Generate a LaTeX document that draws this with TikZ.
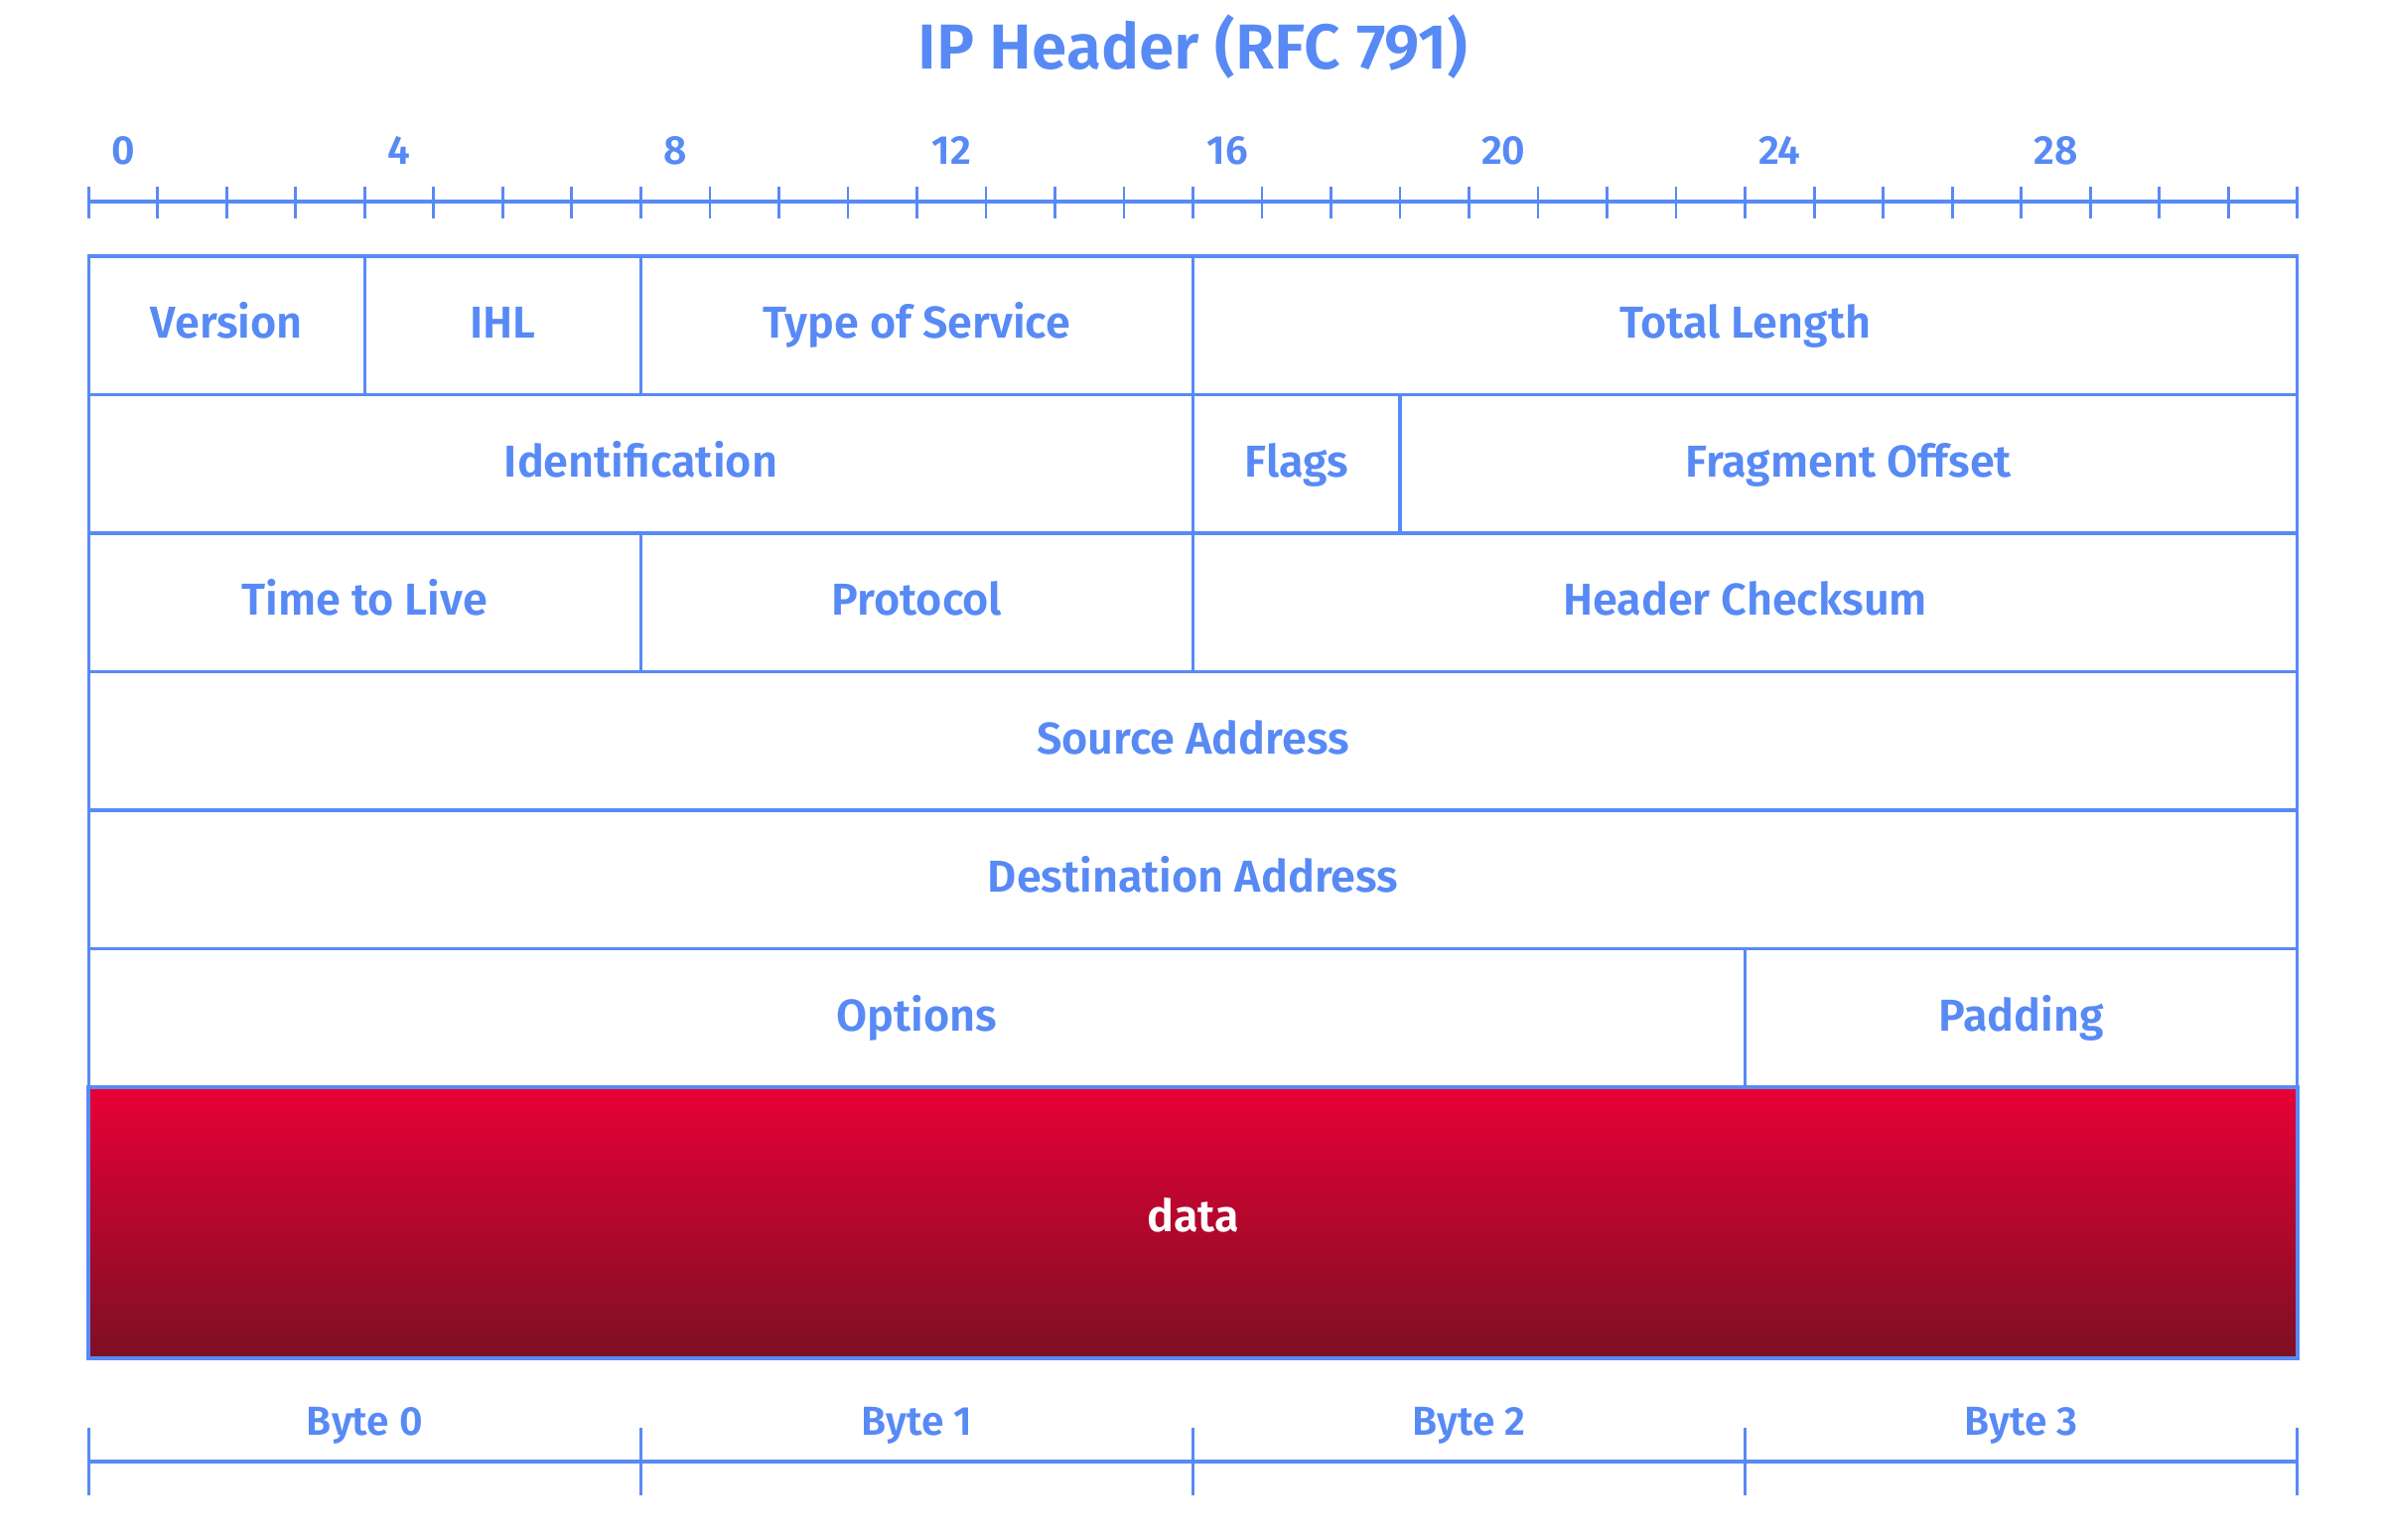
\documentclass[tikz,border=0pt]{standalone}
\usepackage{fontspec}
\setmainfont{Fira Sans}[BoldFont={Fira Sans SemiBold}]
\definecolor{ipblue}{RGB}{88,138,245}
\definecolor{datatop}{RGB}{232,0,54}
\definecolor{databot}{RGB}{125,15,35}
\begin{document}
\begin{tikzpicture}[x=0.6951cm, y=1cm]
\useasboundingbox (-1.2847,2.58) rectangle (33.242,-12.92);
\tikzstyle{every node}=[text=ipblue, font=\bfseries\fontsize{12.8}{15}\selectfont]
\tikzset{field/.style={draw=ipblue, line width=0.95pt, minimum width=#1*0.6951cm,
  minimum height=1.395cm, inner sep=0pt, outer sep=0pt, text height=7.5pt, text depth=0pt}}
\tikzstyle{small}=[font=\bfseries\fontsize{11.6}{13}\selectfont, anchor=base]
\tikzstyle{ruler}=[draw=ipblue, line width=0.95pt]
\tikzstyle{tick}=[draw=ipblue, line width=0.8pt]

% title
\node(title)[anchor=base, font=\bfseries\fontsize{18.2}{21}\selectfont] at (16,1.89) {IP Header (RFC 791)};

% bit ruler
\foreach \k in {0,4,...,28}
  \node(bit\k)[small] at (\k+0.5,0.93) {\k};
\coordinate(rl) at (0,0.55);
\coordinate(rr) at (32,0.55);
\draw[ruler] (rl) -- (rr);
\foreach \k in {0,...,32}
  \draw[tick] (\k,0.38) -- (\k,0.70);

% header fields
\node(ver)[field=4]      at ( 2,-0.6975) {Version};
\node(ihl)[field=4]      at ( 6,-0.6975) {IHL};
\node(tos)[field=8]      at (12,-0.6975) {Type of Service};
\node(totlen)[field=16]  at (24,-0.6975) {Total Length};
\node(ident)[field=16]   at ( 8,-2.0925) {Identification};
\node(flags)[field=3]    at (17.5,-2.0925) {Flags};
\node(fragoff)[field=13] at (25.5,-2.0925) {Fragment Offset};
\node(ttl)[field=8]      at ( 4,-3.4875) {Time to Live};
\node(proto)[field=8]    at (12,-3.4875) {Protocol};
\node(hcsum)[field=16]   at (24,-3.4875) {Header Checksum};
\node(src)[field=32]     at (16,-4.8825) {Source Address};
\node(dst)[field=32]     at (16,-6.2775) {Destination Address};
\node(opts)[field=24]    at (12,-7.6725) {Options};
\node(pad)[field=8]      at (28,-7.6725) {Padding};
\node(data)[field=32, minimum height=2.73cm, top color=datatop, bottom color=databot,
  line width=1.2pt] at (16,-9.735) {};
\node(datatext)[text=white, anchor=base] at (16,-9.82) {data};

% byte ruler
\foreach \b in {0,...,3}
  \node(byte\b)[small] at (8*\b+4,-11.87) {Byte \b};
\coordinate(bl) at (0,-12.14);
\coordinate(br) at (32,-12.14);
\draw[ruler] (bl) -- (br);
\foreach \k in {0,8,...,32}
  \draw[tick] (\k,-11.80) -- (\k,-12.48);

\end{tikzpicture}
\end{document}
